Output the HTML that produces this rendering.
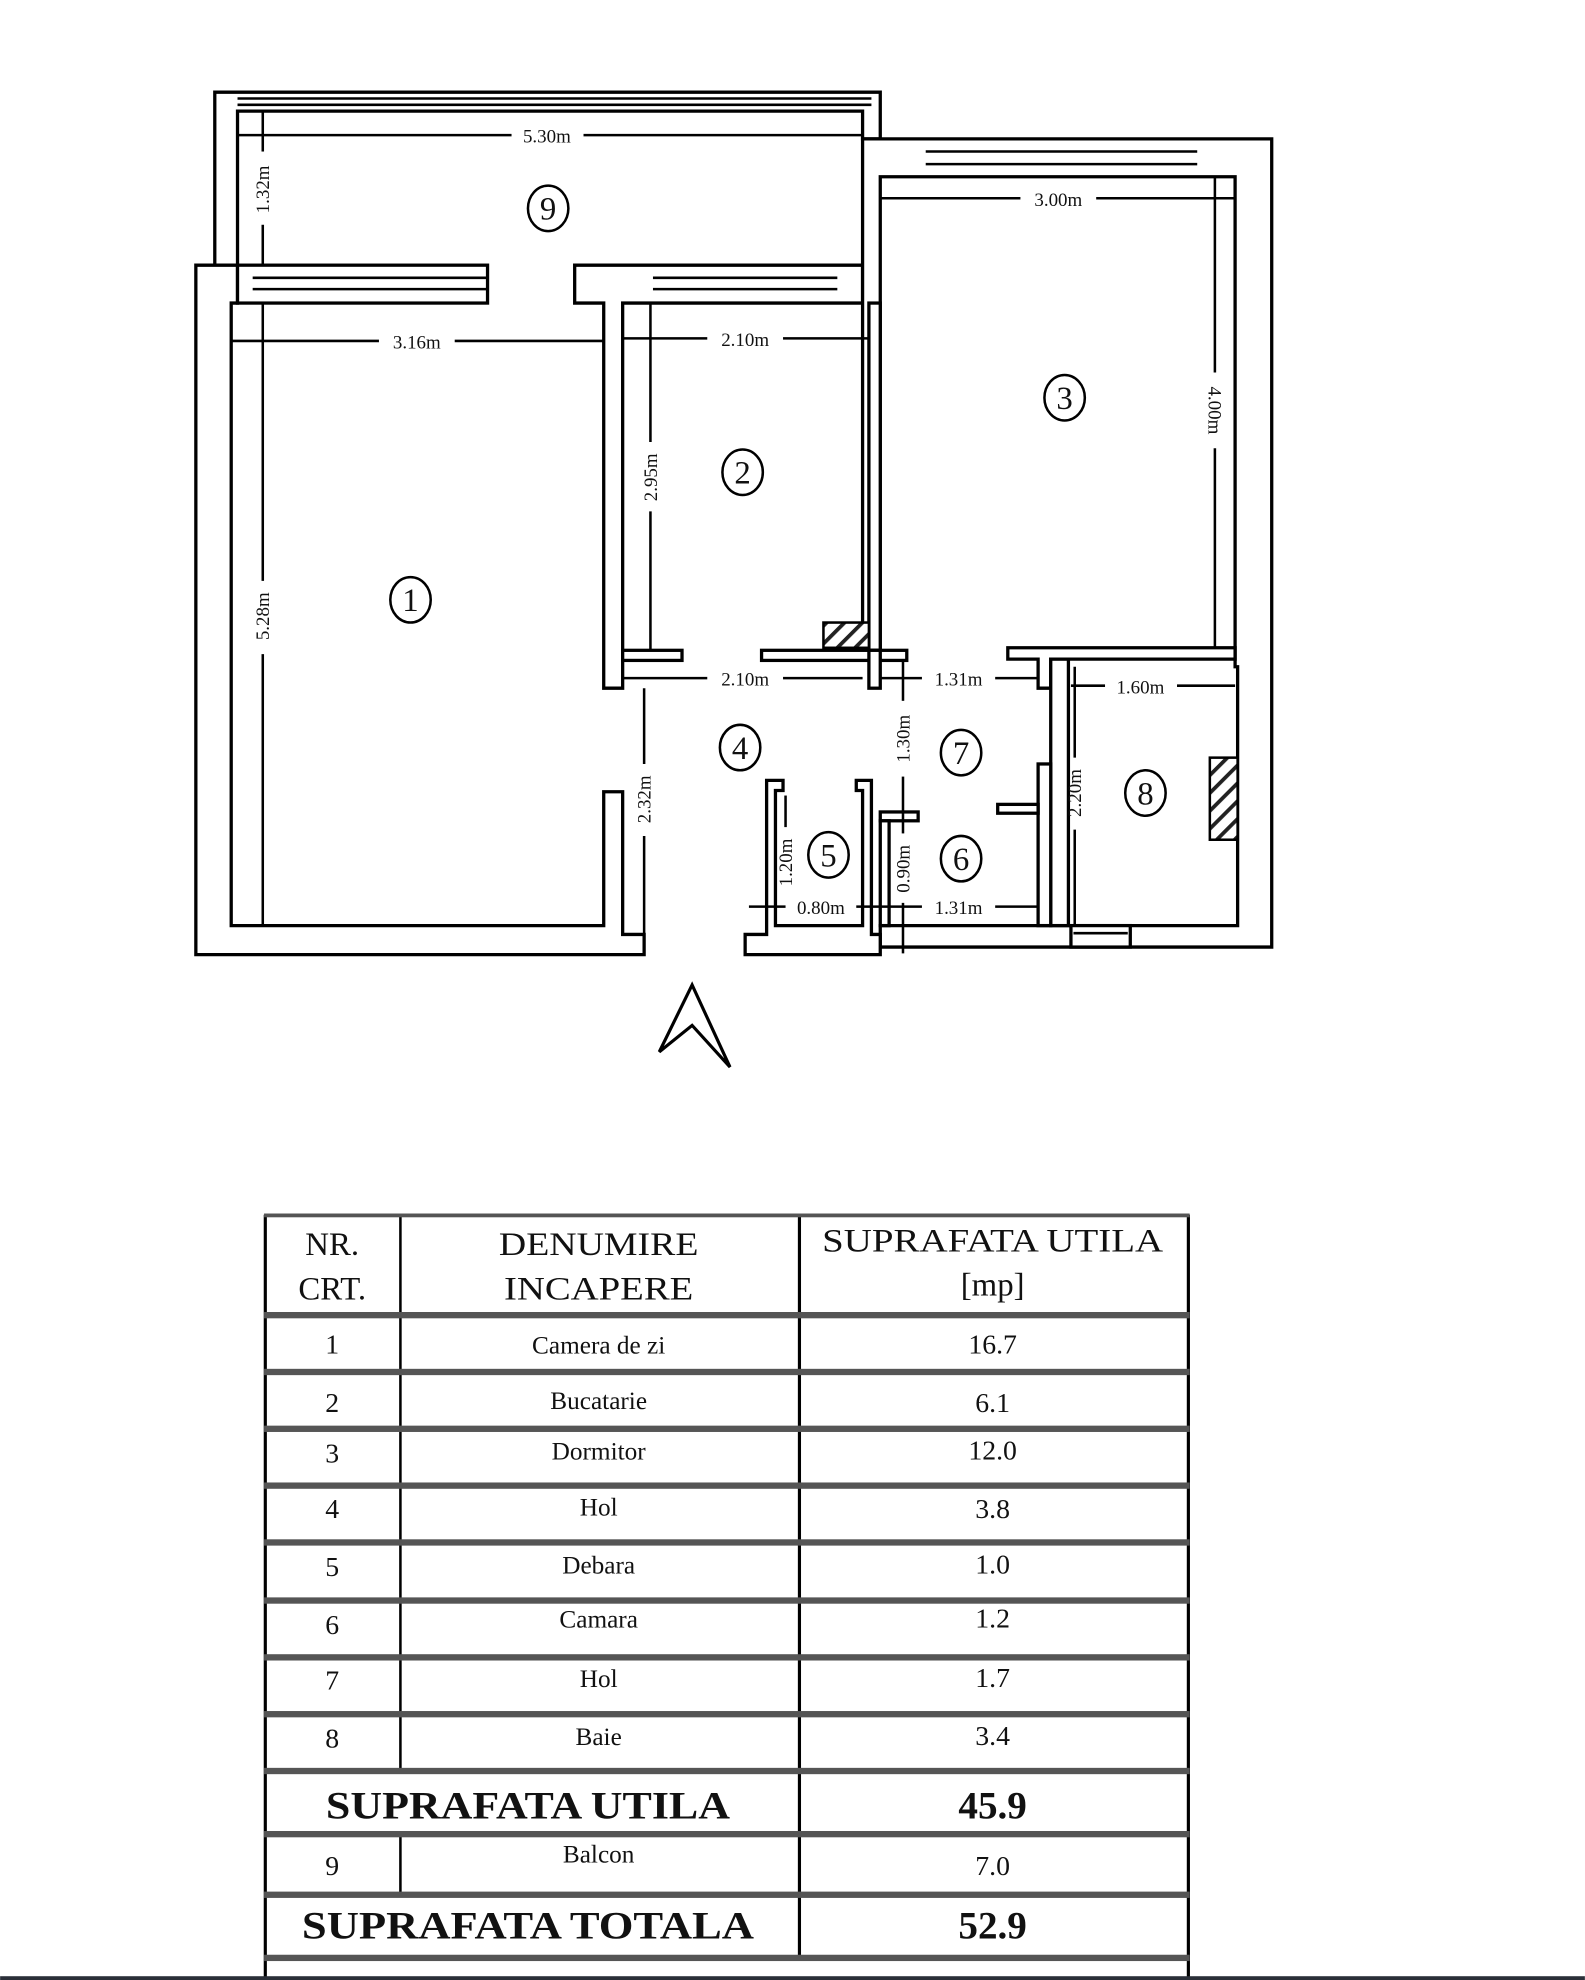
<!DOCTYPE html>
<html><head><meta charset="utf-8"><style>
html,body{margin:0;padding:0;background:#fff;width:1585px;height:1980px;overflow:hidden}
svg{display:block}
text{font-family:"Liberation Serif",serif;fill:#111}
.d{font-size:15px}
.c{font-size:26px}
.w{fill:#fff;stroke:#000;stroke-width:2.6}
.l{stroke:#000;stroke-width:2;fill:none}
</style></head><body>
<svg width="1585" height="1980" viewBox="0 0 1255 1568" xmlns="http://www.w3.org/2000/svg">
<defs><pattern id="h" width="10" height="10" patternUnits="userSpaceOnUse" patternTransform="rotate(45)"><rect width="10" height="10" fill="#fff"/><rect width="3" height="10" fill="#222"/></pattern></defs>
<path class="w" d="M170,73 H697 V110 H683 V88 H188 V210 H170 Z"/>
<line class="l" x1="188" y1="78" x2="690" y2="78"/><line class="l" x1="188" y1="83" x2="690" y2="83"/>
<path class="w" d="M155,210 H188 V240 H183 V733 H478 V627 H493 V740 H510 V756 H155 Z"/>
<rect class="w" x="188" y="210" width="198" height="30"/>
<line class="l" x1="200" y1="220" x2="386" y2="220"/><line class="l" x1="200" y1="229" x2="386" y2="229"/>
<path class="w" d="M455,210 H683 V240 H493 V545 H478 V240 H455 Z"/>
<line class="l" x1="517" y1="220" x2="663" y2="220"/><line class="l" x1="517" y1="229" x2="663" y2="229"/>
<path class="w" d="M683,110 H1007 V750 H697 V733 H980 V528 H978 V140 H697 V520 H683 Z"/>
<line class="l" x1="733" y1="120" x2="948" y2="120"/><line class="l" x1="733" y1="130" x2="948" y2="130"/>
<rect class="w" x="688" y="240" width="9" height="275"/>
<rect class="w" x="493" y="515" width="47" height="8"/>
<rect class="w" x="603" y="515" width="115" height="8"/>
<rect class="w" x="688" y="515" width="9" height="30"/>
<path class="w" d="M798,513 H978 V522 H832 V545 H822 V522 H798 Z"/>
<rect class="w" x="832" y="522" width="14" height="211"/>
<rect class="w" x="848" y="733" width="47" height="17" fill="#666"/>
<line class="l" x1="850" y1="739" x2="893" y2="739" stroke="#444"/>
<rect class="w" x="822" y="605" width="10" height="128"/>
<rect class="w" x="790" y="637" width="32" height="7"/>
<rect class="w" x="697" y="643" width="30" height="7"/>
<rect class="w" x="697" y="650" width="7" height="83"/>
<path class="w" d="M607,618 H620 V626 H614 V733 H683 V626 H678 V618 H690 V740 H697 V756 H590 V740 H607 Z"/>
<rect x="652" y="493" width="36" height="20" fill="url(#h)" stroke="#000" stroke-width="2"/>
<rect x="958" y="600" width="22" height="65" fill="url(#h)" stroke="#000" stroke-width="2"/>
<g class="l">
<line x1="188" y1="107" x2="405" y2="107"/><line x1="462" y1="107" x2="683" y2="107"/>
<line x1="208" y1="88" x2="208" y2="120"/><line x1="208" y1="178" x2="208" y2="210"/>
<line x1="697" y1="157" x2="808" y2="157"/><line x1="868" y1="157" x2="978" y2="157"/>
<line x1="962" y1="140" x2="962" y2="295"/><line x1="962" y1="355" x2="962" y2="513"/>
<line x1="183" y1="270" x2="300" y2="270"/><line x1="360" y1="270" x2="478" y2="270"/>
<line x1="493" y1="268" x2="560" y2="268"/><line x1="620" y1="268" x2="688" y2="268"/>
<line x1="515" y1="240" x2="515" y2="350"/><line x1="515" y1="405" x2="515" y2="515"/>
<line x1="208" y1="240" x2="208" y2="460"/><line x1="208" y1="518" x2="208" y2="733"/>
<line x1="493" y1="537" x2="560" y2="537"/><line x1="620" y1="537" x2="683" y2="537"/>
<line x1="697" y1="537" x2="730" y2="537"/><line x1="788" y1="537" x2="822" y2="537"/>
<line x1="848" y1="543" x2="875" y2="543"/><line x1="932" y1="543" x2="978" y2="543"/>
<line x1="715" y1="522" x2="715" y2="555"/><line x1="715" y1="615" x2="715" y2="645"/>
<line x1="510" y1="545" x2="510" y2="605"/><line x1="510" y1="662" x2="510" y2="745"/>
<line x1="851" y1="528" x2="851" y2="600"/><line x1="851" y1="657" x2="851" y2="733"/>
<line x1="622" y1="630" x2="622" y2="655"/><line x1="715" y1="645" x2="715" y2="660"/><line x1="715" y1="715" x2="715" y2="755"/>
<line x1="593" y1="718" x2="622" y2="718"/><line x1="678" y1="718" x2="730" y2="718"/><line x1="788" y1="718" x2="822" y2="718"/>
</g>
<g class="d" text-anchor="middle">
<text x="433" y="113">5.30m</text>
<text x="838" y="163">3.00m</text>
<text x="330" y="276">3.16m</text>
<text x="590" y="274">2.10m</text>
<text x="590" y="543">2.10m</text>
<text x="759" y="543">1.31m</text>
<text x="903" y="549">1.60m</text>
<text x="650" y="724">0.80m</text>
<text x="759" y="724">1.31m</text>
<text transform="translate(213,150) rotate(-90)">1.32m</text>
<text transform="translate(957,325) rotate(90)">4.00m</text>
<text transform="translate(520,378) rotate(-90)">2.95m</text>
<text transform="translate(213,488) rotate(-90)">5.28m</text>
<text transform="translate(720,585) rotate(-90)">1.30m</text>
<text transform="translate(515,633) rotate(-90)">2.32m</text>
<text transform="translate(856,628) rotate(-90)">2.20m</text>
<text transform="translate(627,683) rotate(-90)">1.20m</text>
<text transform="translate(720,688) rotate(-90)">0.90m</text>
</g>
<g text-anchor="middle">
<g fill="none" stroke="#000" stroke-width="2">
<ellipse cx="434" cy="165" rx="16" ry="18"/><ellipse cx="588" cy="374" rx="16" ry="18"/>
<ellipse cx="843" cy="315" rx="16" ry="18"/><ellipse cx="325" cy="475" rx="16" ry="18"/>
<ellipse cx="586" cy="592" rx="16" ry="18"/><ellipse cx="761" cy="596" rx="16" ry="18"/>
<ellipse cx="907" cy="628" rx="16" ry="18"/><ellipse cx="656" cy="677" rx="16" ry="18"/>
<ellipse cx="761" cy="680" rx="16" ry="18"/></g>
<text class="c" x="434" y="174">9</text><text class="c" x="588" y="383">2</text>
<text class="c" x="843" y="324">3</text><text class="c" x="325" y="484">1</text>
<text class="c" x="586" y="601">4</text><text class="c" x="761" y="605">7</text>
<text class="c" x="907" y="637">8</text><text class="c" x="656" y="686">5</text>
<text class="c" x="761" y="689">6</text>
</g>
<path d="M522,833 L548,780 L578,845 L548,812 Z" fill="none" stroke="#000" stroke-width="2.5"/>
<g stroke="#000">
<line x1="210" y1="962" x2="210" y2="1568" stroke-width="2.5"/>
<line x1="941" y1="962" x2="941" y2="1568" stroke-width="2.5"/>
<line x1="633" y1="962" x2="633" y2="1552" stroke-width="2.5"/>
<line x1="317" y1="962" x2="317" y2="1402" stroke-width="2"/>
<line x1="317" y1="1452" x2="317" y2="1500" stroke-width="2"/>
</g>
<g fill="#555">
<rect x="209" y="961" width="733" height="3"/>
<rect x="209" y="1039" width="733" height="5"/>
<rect x="209" y="1084" width="733" height="5"/>
<rect x="209" y="1129" width="733" height="5"/>
<rect x="209" y="1174" width="733" height="5"/>
<rect x="209" y="1219" width="733" height="5"/>
<rect x="209" y="1265" width="733" height="5"/>
<rect x="209" y="1310" width="733" height="5"/>
<rect x="209" y="1355" width="733" height="5"/>
<rect x="209" y="1400" width="733" height="5"/>
<rect x="209" y="1450" width="733" height="5"/>
<rect x="209" y="1498" width="733" height="5"/>
<rect x="209" y="1548" width="733" height="5"/>
</g>
<rect x="0" y="1565" width="1255" height="3" fill="#2a2f38"/>
<g text-anchor="middle" font-size="26">
<text x="263" y="994">NR.</text><text x="263" y="1029">CRT.</text>
<text x="474" y="994" textLength="158" lengthAdjust="spacingAndGlyphs">DENUMIRE</text><text x="474" y="1029" textLength="150" lengthAdjust="spacingAndGlyphs">INCAPERE</text>
<text x="786" y="991" textLength="270" lengthAdjust="spacingAndGlyphs">SUPRAFATA UTILA</text><text x="786" y="1026">[mp]</text>
</g>
<g text-anchor="middle" font-size="22">
<text x="263" y="1072">1</text><text x="474" y="1072" font-size="20">Camera de zi</text><text x="786" y="1072">16.7</text>
<text x="263" y="1118">2</text><text x="474" y="1116" font-size="20">Bucatarie</text><text x="786" y="1118">6.1</text>
<text x="263" y="1158">3</text><text x="474" y="1156" font-size="20">Dormitor</text><text x="786" y="1156">12.0</text>
<text x="263" y="1202">4</text><text x="474" y="1200" font-size="20">Hol</text><text x="786" y="1202">3.8</text>
<text x="263" y="1248">5</text><text x="474" y="1246" font-size="20">Debara</text><text x="786" y="1246">1.0</text>
<text x="263" y="1294">6</text><text x="474" y="1289" font-size="20">Camara</text><text x="786" y="1289">1.2</text>
<text x="263" y="1338">7</text><text x="474" y="1336" font-size="20">Hol</text><text x="786" y="1336">1.7</text>
<text x="263" y="1384">8</text><text x="474" y="1382" font-size="20">Baie</text><text x="786" y="1382">3.4</text>
<text x="263" y="1485">9</text><text x="474" y="1475" font-size="20">Balcon</text><text x="786" y="1485">7.0</text>
</g>
<g text-anchor="middle" font-size="31" font-weight="bold">
<text x="418" y="1440" textLength="320" lengthAdjust="spacingAndGlyphs">SUPRAFATA UTILA</text><text x="786" y="1440">45.9</text>
<text x="418" y="1535" textLength="358" lengthAdjust="spacingAndGlyphs">SUPRAFATA TOTALA</text><text x="786" y="1535">52.9</text>
</g>
</svg>
</body></html>
